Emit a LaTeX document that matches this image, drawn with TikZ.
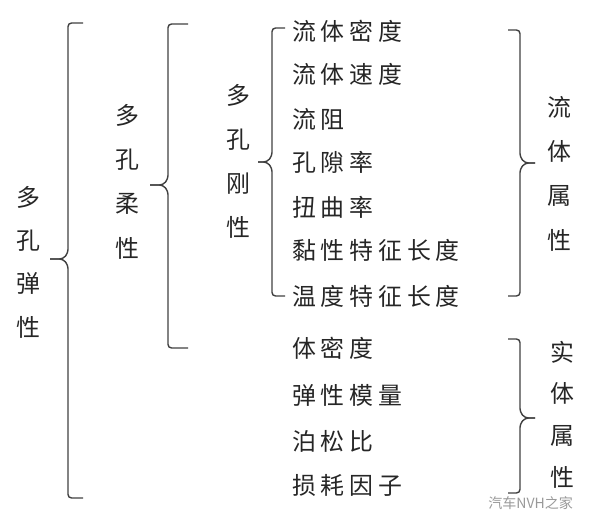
\documentclass[tikz,border=0pt]{standalone}
\usepackage{fontspec}
\newfontfamily\cjk[LetterSpace=20]{Noto Sans CJK SC}
\newfontfamily\cjkplain{Noto Sans CJK SC}

\tikzset{
  word/.style={font=\cjk\fontsize{17}{20}\selectfont, inner sep=0pt,
    text height=15pt, text depth=2pt, text=black!85},
  item/.style={word, anchor=west},
  vword/.style={word, font=\cjkplain\fontsize{17}{20}\selectfont},
  brk/.style={draw=black!75, line width=1pt, rounded corners=2.5pt},
}

\begin{document}
\begin{tikzpicture}[x=0.025cm, y=-0.025cm]
    \useasboundingbox (0,0) rectangle (593,516);

    % vertical labels
    \foreach \c [count=\i] in {多,孔,弹,性}
        \node[vword] (ela-\i) at (28, {197+43.3*(\i-1)}) {\c};
    \foreach \c [count=\i] in {多,孔,柔,性}
        \node[vword] (flex-\i) at (127, {115+44.3*(\i-1)}) {\c};
    \foreach \c [count=\i] in {多,孔,刚,性}
        \node[vword] (rigid-\i) at (238, {95+44*(\i-1)}) {\c};
    \foreach \c [count=\i] in {流,体,属,性}
        \node[vword] (fluidp-\i) at (559, {107+44.3*(\i-1)}) {\c};
    \foreach \c [count=\i] in {实,体,属,性}
        \node[vword] (solidp-\i) at (562, {352+41.7*(\i-1)}) {\c};

    % parameter list
    \foreach \y/\t [count=\i] in {31/流体密度, 74/流体速度, 119/流阻,
                                  162/孔隙率, 207/扭曲率, 250/黏性特征长度,
                                  296/温度特征长度}
        \node[item] (f\i) at (292, \y) {\t};
    \foreach \y/\t [count=\i] in {348/体密度, 395/弹性模量, 441/泊松比,
                                  485/损耗因子}
        \node[item] (s\i) at (292, \y) {\t};

    % left braces
    \foreach \x/\t/\m/\b/\e/\tip in {68/23/259/498/83/50,
                                     168/24/185/348/188/150,
                                     272/28/162/296/285/258} {
        \draw[brk] (\e,\t) -- (\x,\t) -- (\x,{\m-6}) -- ({\x-5},\m) -- (\tip,\m);
        \draw[brk] (\tip,\m) -- ({\x-5},\m) -- (\x,{\m+6}) -- (\x,\b) -- (\e,\b);
    }

    % right braces
    \foreach \t/\m/\b in {30/163/296, 339/418/493} {
        \draw[brk] (508,\t) -- (520,\t) -- (520,{\m-6}) -- (525,\m) -- (535,\m);
        \draw[brk] (535,\m) -- (525,\m) -- (520,{\m+6}) -- (520,\b) -- (508,\b);
    }

    \node[font=\cjkplain\fontsize{10}{12}\selectfont, text=black!40,
          inner sep=0pt, anchor=west] (wm) at (488, 503) {汽车NVH之家};
\end{tikzpicture}
\end{document}
